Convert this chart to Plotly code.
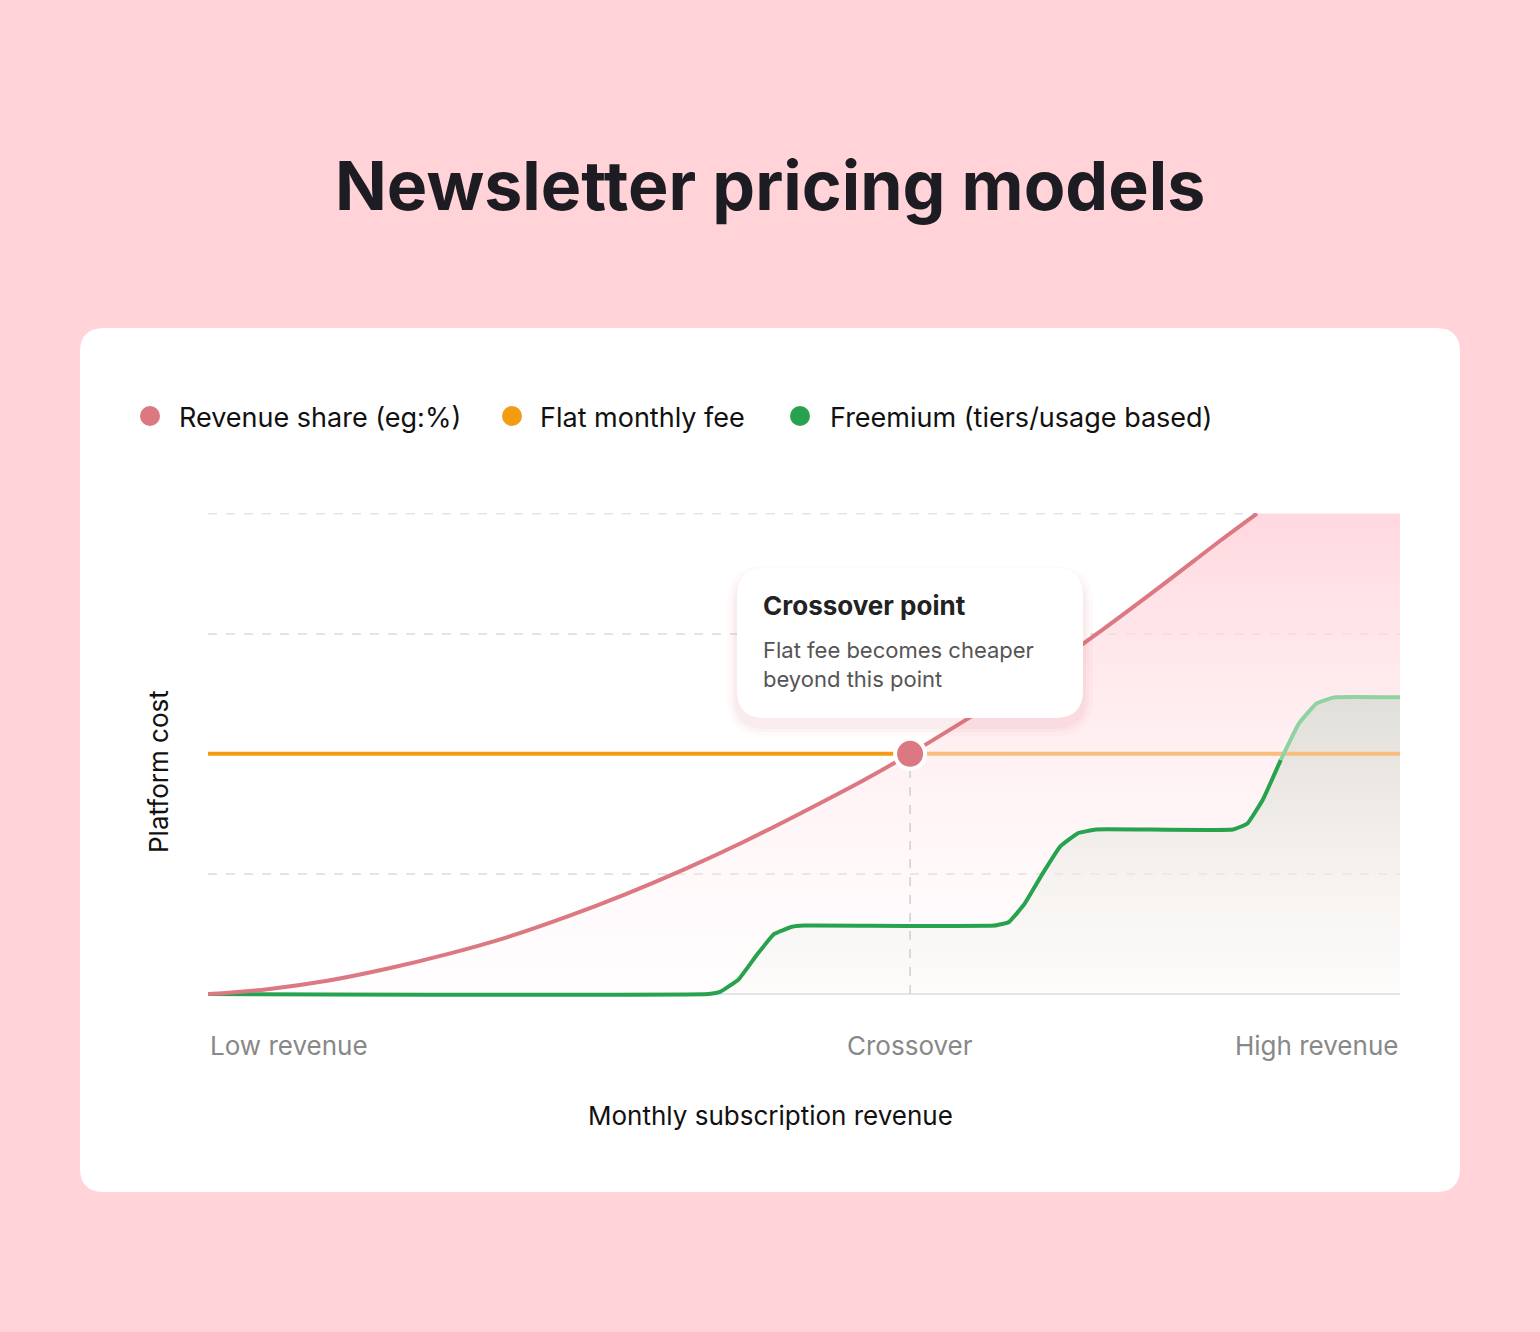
import plotly.graph_objects as go

# values (x: 0 = low revenue, 1 = high revenue; y: platform cost 0..4)
rev_x = [0, 0.05, 0.1, 0.15, 0.2, 0.25, 0.3, 0.35, 0.4, 0.45, 0.5, 0.55, 0.589, 0.65, 0.7, 0.75, 0.8, 0.85, 0.88]
rev_y = [0, 0.04, 0.11, 0.21, 0.33, 0.47, 0.64, 0.83, 1.04, 1.27, 1.52, 1.78, 2.0, 2.37, 2.68, 3.03, 3.40, 3.78, 4.0]
flat_x = [0, 0.589, 1]
flat_y = [2, 2, 2]
free_x = [0, 0.42, 0.43, 0.445, 0.46, 0.475, 0.49, 0.5, 0.66, 0.672, 0.685, 0.70, 0.715, 0.73, 0.745,
          0.86, 0.872, 0.885, 0.90, 0.915, 0.93, 0.945, 1]
free_y = [0, 0, 0.02, 0.12, 0.32, 0.5, 0.56, 0.57, 0.57, 0.6, 0.75, 1.0, 1.23, 1.34, 1.37,
          1.37, 1.42, 1.62, 1.95, 2.25, 2.42, 2.47, 2.47]
cross_x, cross_y = 0.589, 2.0
legend_names = ["Revenue share (eg:%)", "Flat monthly fee", "Freemium (tiers/usage based)"]
legend_colors = ["#dc7882", "#f39c12", "#27a34f"]

W, H = 1540, 1332
L, R, T, B = 208, 140, 513, 334
pw, ph = W - L - R, H - T - B
def px(x): return (x - L) / pw
def py(y): return (H - B - y) / ph

fig = go.Figure()

fig.add_trace(go.Scatter(
    x=rev_x + [1], y=rev_y + [4], mode="lines", line=dict(width=0),
    fill="tozeroy", fillgradient=dict(type="vertical", colorscale=[[0, "rgba(255,240,242,0.1)"], [1, "rgba(255,212,219,0.9)"]]),
    showlegend=False, hoverinfo="skip"))
fig.add_trace(go.Scatter(
    x=free_x, y=free_y, mode="lines", line=dict(width=0, shape="spline", smoothing=0.3),
    fill="tozeroy", fillgradient=dict(type="vertical", colorscale=[[0, "rgba(244,244,238,0.2)"], [1, "rgba(222,222,215,0.95)"]]),
    showlegend=False, hoverinfo="skip"))

fig.add_trace(go.Scatter(x=[cross_x, cross_x], y=[0, cross_y], mode="lines",
                         line=dict(color="#cfcfcf", width=1.5, dash="dash"), showlegend=False, hoverinfo="skip"))

fig.add_trace(go.Scatter(x=flat_x[1:], y=flat_y[1:], mode="lines", line=dict(color="#f9bd7c", width=4), showlegend=False))
fig.add_trace(go.Scatter(x=flat_x[:2], y=flat_y[:2], mode="lines", line=dict(color="#f39c12", width=4), showlegend=False))
fig.add_trace(go.Scatter(x=free_x[:19], y=free_y[:19], mode="lines",
                         line=dict(color="#27a34f", width=4, shape="spline", smoothing=0.3), showlegend=False))
fig.add_trace(go.Scatter(x=free_x[18:], y=free_y[18:], mode="lines",
                         line=dict(color="#8fd3a3", width=4, shape="spline", smoothing=0.3), showlegend=False))
fig.add_trace(go.Scatter(x=rev_x, y=rev_y, mode="lines", line=dict(color="#dc7882", width=4, shape="spline"), showlegend=False))
fig.add_trace(go.Scatter(x=[cross_x], y=[cross_y], mode="markers",
                         marker=dict(size=30, color="#dc7882", line=dict(color="white", width=4)), showlegend=False))


def rounded(x0, y0, x1, y1, r):
    # pixel coords -> paper path with rounded corners
    def P(x, y): return f"{px(x)},{py(y)}"
    return (f"M{P(x0+r,y0)} L{P(x1-r,y0)} Q{P(x1,y0)} {P(x1,y0+r)} L{P(x1,y1-r)} Q{P(x1,y1)} {P(x1-r,y1)} "
            f"L{P(x0+r,y1)} Q{P(x0,y1)} {P(x0,y1-r)} L{P(x0,y0+r)} Q{P(x0,y0)} {P(x0+r,y0)} Z")

shapes = [
    dict(type="path", xref="paper", yref="paper", path=rounded(80, 328, 1460, 1192, 24),
         fillcolor="white", line_width=0, layer="below"),
    dict(type="line", xref="x", yref="y", x0=0, x1=0.88, y0=4, y1=4, layer="below",
         line=dict(color="#e4e4e4", width=2, dash="dash")),
]
for d, a in [(10, 0.03), (6, 0.04), (3, 0.05)]:
    shapes.append(dict(type="path", xref="paper", yref="paper",
                       path=rounded(737 - d, 568 - d + 8, 1083 + d, 718 + d + 8, 28 + d),
                       fillcolor=f"rgba(210,90,110,{a})", line_width=0))
shapes.append(dict(type="path", xref="paper", yref="paper",
                   path=rounded(737, 568, 1083, 718, 28), fillcolor="white", line_width=0))
for cx, col in zip([150, 512, 800], legend_colors):
    shapes.append(dict(type="circle", xref="paper", yref="paper", x0=px(cx - 10), x1=px(cx + 10),
                       y0=py(426), y1=py(406), fillcolor=col, line_width=0))
fig.update_layout(shapes=shapes)

ann = [
    dict(text="<b>Newsletter pricing models</b>", x=px(770), y=py(185), font=dict(size=68, color="#1c1c22")),
    dict(text="<b>Crossover point</b>", x=px(761), y=py(605), xanchor="left", font=dict(size=26, color="#222")),
    dict(text="Flat fee becomes cheaper<br>beyond this point", x=px(761), y=py(664), xanchor="left", align="left",
         font=dict(size=22, color="#555")),
    dict(text="Low revenue", x=0, y=py(1045), xanchor="left", font=dict(size=26, color="#888")),
    dict(text="Crossover", x=cross_x, y=py(1045), font=dict(size=26, color="#888")),
    dict(text="High revenue", x=1, y=py(1045), xanchor="right", font=dict(size=26, color="#888")),
    dict(text="Monthly subscription revenue", x=px(770), y=py(1115), font=dict(size=26, color="#111")),
    dict(text="Platform cost", x=px(158), y=py(772), textangle=-90, font=dict(size=26, color="#111")),
]
for tx, name in zip([177, 538, 828], legend_names):
    ann.append(dict(text=name, x=px(tx), y=py(417), xanchor="left", font=dict(size=27, color="#111")))
for a in ann:
    a.update(xref="paper", yref="paper", showarrow=False)
    a.setdefault("yanchor", "middle")
    a.setdefault("xanchor", "center")
fig.update_layout(annotations=ann)

fig.update_layout(
    width=W, height=H, margin=dict(l=L, r=R, t=T, b=B),
    paper_bgcolor="#ffd3d8", plot_bgcolor="rgba(0,0,0,0)",
    font=dict(family="Inter, Noto Sans, sans-serif"),
    showlegend=False,
    xaxis=dict(range=[0, 1], showgrid=False, zeroline=False, showticklabels=False),
    yaxis=dict(range=[-0.033, 4.005], tickvals=[1, 2, 3, 4], showgrid=True, gridcolor="#e4e4e4", griddash="dash", gridwidth=2,
               zeroline=True, zerolinecolor="#e2e2e2", zerolinewidth=2, showticklabels=False, layer="below traces"),
)
fig.write_html("out.html", config={"displayModeBar": False}, post_script="document.body.style.margin='0';")
